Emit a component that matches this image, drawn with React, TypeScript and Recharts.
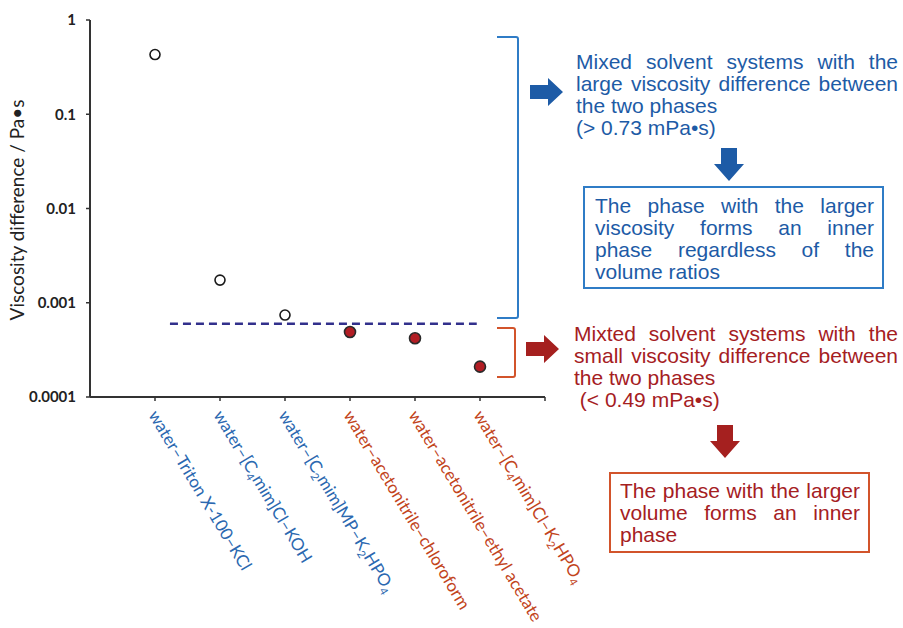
import React, { useLayoutEffect, useRef, useState } from "react";
import { ReferenceLine, Scatter, ScatterChart, XAxis, YAxis } from "recharts";

// systems on the x axis (label pieces, "sub" = subscript)
const systemLabels = [
    [{ t: "water–Triton X-100–KCl" }],
    [{ t: "water–[C" }, { t: "4", sub: true }, { t: "mim]Cl–KOH" }],
    [{ t: "water–[C" }, { t: "2", sub: true }, { t: "mim]MP–K" }, { t: "2", sub: true }, { t: "HPO" }, { t: "4", sub: true }],
    [{ t: "water–acetonitrile–chloroform" }],
    [{ t: "water–acetonitrile–ethyl acetate" }],
    [{ t: "water–[C" }, { t: "4", sub: true }, { t: "mim]Cl–K" }, { t: "2", sub: true }, { t: "HPO" }, { t: "4", sub: true }],
];
const viscosityDiff = [0.43, 0.00174, 0.00074, 0.00049, 0.00042, 0.00021];
const groupOf = ["large", "large", "large", "small", "small", "small"];
const yTicks = [0.0001, 0.001, 0.01, 0.1, 1];
const thresholdValue = 0.0006;
const thresholdSpan = [1.23, 5.95];

const largeNote = ["Mixed solvent systems with the", "large viscosity difference between", "the two phases", "(> 0.73 mPa•s)"];
const largeResult = ["The phase with the larger", "viscosity forms an inner", "phase regardless of the", "volume ratios"];
const smallNote = ["Mixted solvent systems with the", "small viscosity difference between", "the two phases", " (< 0.49 mPa•s)"];
const smallResult = ["The phase with the larger", "volume forms an inner", "phase"];

const BLUE_TEXT = "#1d5ba6";
const BLUE_LINE = "#2f7cc6";
const RED_TEXT = "#a5201f";
const RED_LINE = "#d2542b";
const FONT = "'Liberation Sans', Arial, sans-serif";
const AXIS_FONT = "Lato, 'Liberation Sans', sans-serif";

const points = viscosityDiff.map((v, i) => ({ x: i + 1, y: v, group: groupOf[i] }));
const largePts = points.filter(p => p.group === "large");
const smallPts = points.filter(p => p.group === "small");

function SystemTick(props: any) {
    const { x, y, payload } = props;
    const idx = payload.value - 1;
    const parts = systemLabels[idx];
    if (!parts) return null;
    const color = groupOf[idx] === "large" ? "#2b68b0" : "#c2441c";
    let shifted = false;
    return (
        <g transform={`translate(${x - 7},${y + 12})`}>
            <text transform="rotate(59)" fontFamily={AXIS_FONT} fontSize={17} fill={color}>
                {parts.map((p: any, k: number) => {
                    let dy = 0;
                    if (p.sub && !shifted) { dy = 4; shifted = true; }
                    else if (!p.sub && shifted) { dy = -4; shifted = false; }
                    return (
                        <tspan key={k} dy={dy} fontSize={p.sub ? 11 : 17}>{p.t}</tspan>
                    );
                })}
            </text>
        </g>
    );
}

function OpenDot(props: any) {
    return <circle cx={props.cx} cy={props.cy} r={5} fill="#fff" stroke="#1a1a1a" strokeWidth={1.6} />;
}
function FilledDot(props: any) {
    return <circle cx={props.cx} cy={props.cy} r={5.5} fill="#b21d24" stroke="#2a2a2a" strokeWidth={1.6} />;
}

// one line of text, justified by word spacing when width is given
function Line({ text, x, y, width }: { text: string; x: number; y: number; width?: number }) {
    const ref = useRef<SVGTextElement>(null);
    const [ws, setWs] = useState(0);
    useLayoutEffect(() => {
        if (!width || !ref.current) return;
        const natural = ref.current.getComputedTextLength();
        const gaps = text.trim().split(/\s+/).length - 1;
        if (gaps > 0) setWs((width - natural) / gaps);
    }, [text, width]);
    return <text ref={ref} x={x} y={y} xmlSpace="preserve" style={{ wordSpacing: ws }}>{text}</text>;
}

type BlockProps = { lines: string[]; x: number; y: number; width: number; justify: number; color: string };
function TextBlock({ lines, x, y, width, justify, color }: BlockProps) {
    return (
        <g fontFamily={FONT} fontSize={21} fill={color}>
            {lines.map((ln, i) => (
                <Line key={i} text={ln} x={x} y={y + i * 22} width={i < justify ? width : undefined} />
            ))}
        </g>
    );
}

function RightArrow({ x, y, color }: { x: number; y: number; color: string }) {
    // x = tail, y = centre line
    const d = `M${x},${y - 7} L${x + 18},${y - 7} L${x + 18},${y - 14} L${x + 33},${y} L${x + 18},${y + 14} L${x + 18},${y + 7} L${x},${y + 7} Z`;
    return <path d={d} fill={color} />;
}
function DownArrow({ x, y, color }: { x: number; y: number; color: string }) {
    // x = centre, y = top
    const d = `M${x - 8},${y} L${x + 8},${y} L${x + 8},${y + 16} L${x + 15},${y + 16} L${x},${y + 33} L${x - 15},${y + 16} L${x - 8},${y + 16} Z`;
    return <path d={d} fill={color} />;
}

function Annotations() {
    return (
        <svg width={903} height={628} style={{ position: "absolute", left: 0, top: 0, pointerEvents: "none" }}>
            <text transform="translate(24,210) rotate(-90)" textAnchor="middle" fontFamily={AXIS_FONT} fontSize={19} fill="#222">
                Viscosity difference / Pa•s
            </text>

            <path d="M497,37 L516,37 Q518,37 518,39 L518,316 Q518,318 516,318 L497,318" fill="none" stroke={BLUE_LINE} strokeWidth={2} />
            <path d="M497,328 L513,328 Q515,328 515,330 L515,375 Q515,377 513,377 L497,377" fill="none" stroke={RED_LINE} strokeWidth={2} />

            <RightArrow x={530} y={92} color={BLUE_TEXT} />
            <TextBlock lines={largeNote} x={576} y={69} width={322} justify={2} color={BLUE_TEXT} />
            <DownArrow x={729} y={148} color={BLUE_TEXT} />
            <rect x={584} y={187} width={299} height={101} fill="none" stroke={BLUE_LINE} strokeWidth={2} />
            <TextBlock lines={largeResult} x={595} y={213} width={279} justify={3} color={BLUE_TEXT} />

            <RightArrow x={526} y={349} color={RED_TEXT} />
            <TextBlock lines={smallNote} x={574} y={341} width={324} justify={2} color={RED_TEXT} />
            <DownArrow x={725} y={425} color={RED_TEXT} />
            <rect x={610} y={473} width={259} height={79} fill="none" stroke={RED_LINE} strokeWidth={2} />
            <TextBlock lines={smallResult} x={620} y={498} width={240} justify={2} color={RED_TEXT} />
        </svg>
    );
}

export default function App() {
    return (
        <div style={{ position: "absolute", left: 0, top: 0, width: 903, height: 628, background: "#fff" }}>
            <ScatterChart width={903} height={628} margin={{ top: 20, right: 358, bottom: 201, left: 20 }}>
                <XAxis
                    type="number"
                    dataKey="x"
                    domain={[0, 7]}
                    ticks={[1, 2, 3, 4, 5, 6, 7]}
                    interval={0}
                    height={30}
                    tick={<SystemTick />}
                    tickSize={4}
                    axisLine={{ stroke: "#333", strokeWidth: 2 }}
                    tickLine={{ stroke: "#333", strokeWidth: 1.5 }}
                />
                <YAxis
                    type="number"
                    dataKey="y"
                    scale="log"
                    domain={[0.0001, 1]}
                    ticks={yTicks}
                    allowDataOverflow
                    width={70}
                    tickSize={4}
                    tickMargin={10}
                    tickFormatter={(v: number) => String(v)}
                    tick={{ fontFamily: AXIS_FONT, fontSize: 15, fill: "#222", fontWeight: 700 }}
                    axisLine={{ stroke: "#333", strokeWidth: 2 }}
                    tickLine={{ stroke: "#333", strokeWidth: 1.5 }}
                />
                <ReferenceLine
                    segment={[{ x: thresholdSpan[0], y: thresholdValue }, { x: thresholdSpan[1], y: thresholdValue }]}
                    stroke="#32308c"
                    strokeWidth={2.5}
                    strokeDasharray="8 5"
                />
                <Scatter data={largePts} shape={<OpenDot />} isAnimationActive={false} />
                <Scatter data={smallPts} shape={<FilledDot />} isAnimationActive={false} />
            </ScatterChart>
            <Annotations />
        </div>
    );
}
